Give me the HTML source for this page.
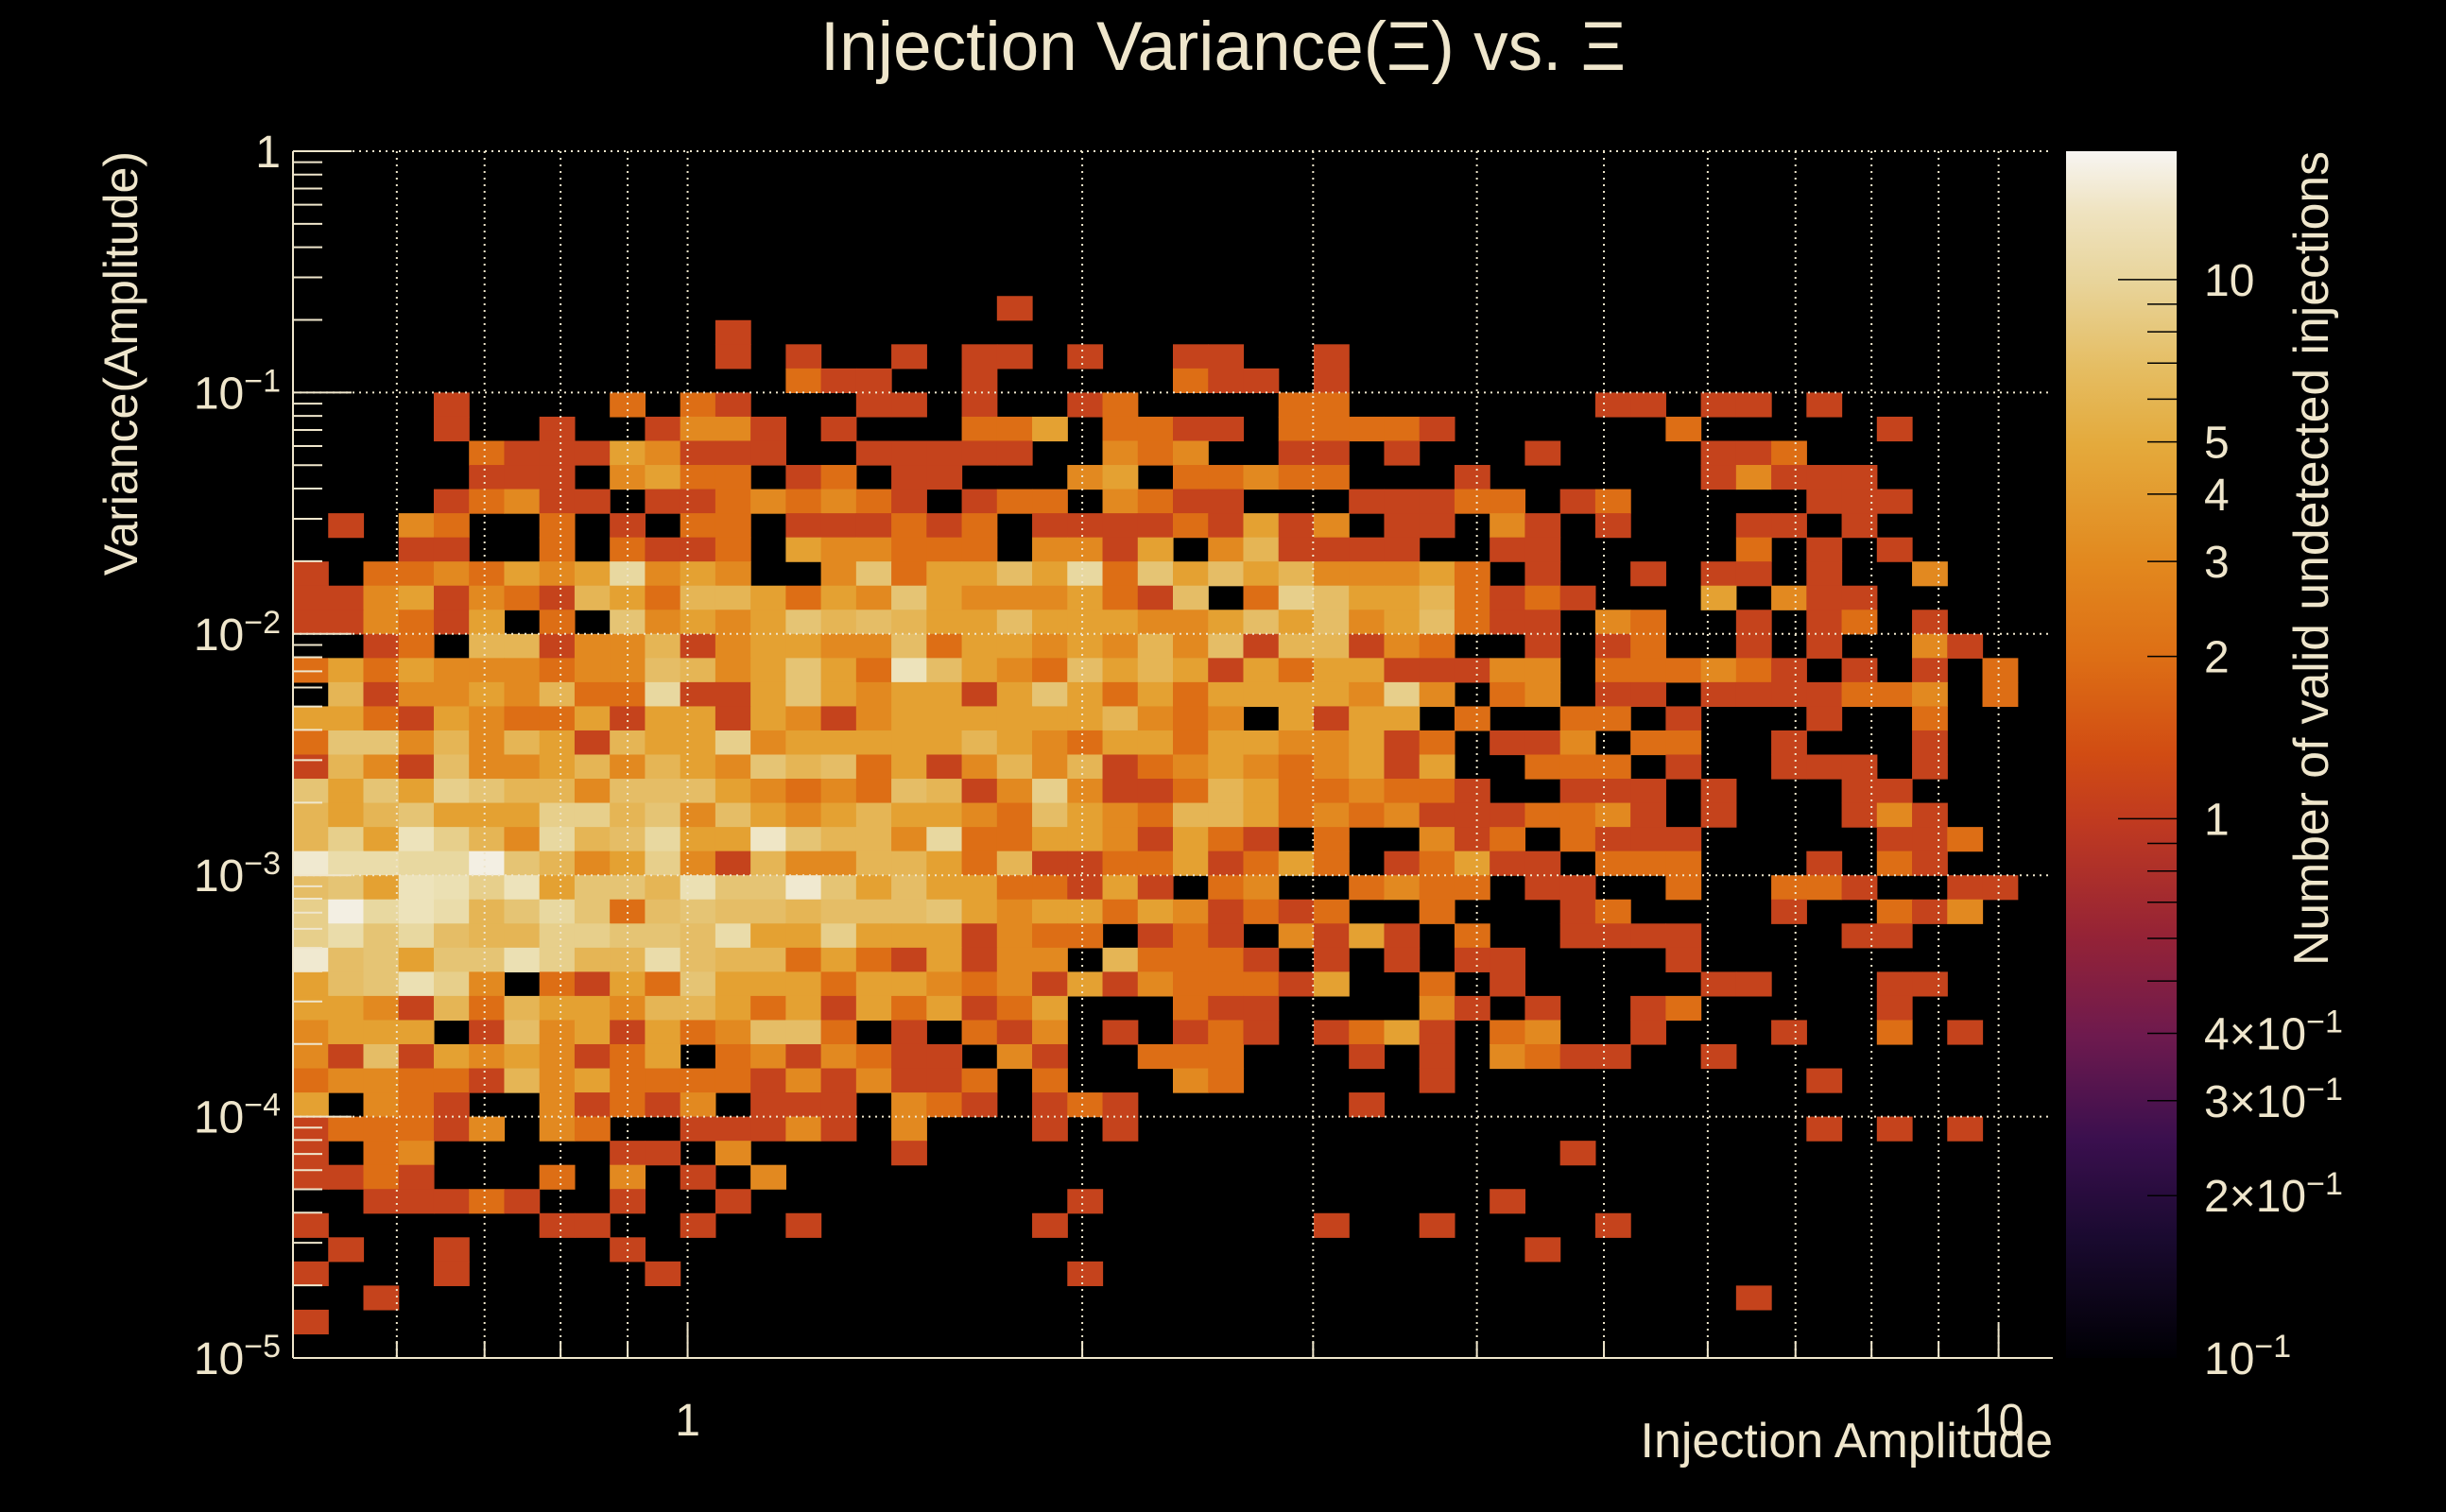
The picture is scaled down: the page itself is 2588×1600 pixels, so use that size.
<!DOCTYPE html>
<html>
<head>
<meta charset="utf-8">
<style>
  html, body { margin:0; padding:0; background:#000; }
  svg { display:block; }
  text { font-family: "Liberation Sans", "DejaVu Sans", sans-serif; fill:#efe6cc; }
</style>
</head>
<body>
<svg id="chart" width="2588" height="1600" viewBox="0 0 2588 1600" xmlns="http://www.w3.org/2000/svg">
  <rect x="0" y="0" width="2588" height="1600" fill="#000"/>
  <text x="1294" y="74" font-size="73" text-anchor="middle">Injection Variance(Ξ) vs. Ξ</text>
  <g id="cells"></g>
  <g id="grid"></g>
  <g id="axes"></g>
  <g id="colorbar"></g>
  <text x="2172" y="1542" font-size="52" text-anchor="end">Injection Amplitude</text>
  <text transform="translate(145,160) rotate(-90)" font-size="50" text-anchor="end">Variance(Amplitude)</text>
  <text transform="translate(2463,160) rotate(-90)" font-size="52" text-anchor="end" textLength="862" lengthAdjust="spacingAndGlyphs">Number of valid undetected injections</text>
</svg>
<script>
// ---- chart data ----
const xRange = [0.5, 11];          // injection amplitude axis range
const yRange = [1e-5, 1];          // variance axis range
const zRange = [0.1, 17.3];        // colour axis range
const nBinsX = 50;
const nBinsY = 50;
// counts per bin, row 0 = top (highest variance); one base-36 char per column
const row0  = "00000000000000000000000000000000000000000000000000";
const row1  = "00000000000000000000000000000000000000000000000000";
const row2  = "00000000000000000000000000000000000000000000000000";
const row3  = "00000000000000000000000000000000000000000000000000";
const row4  = "00000000000000000000000000000000000000000000000000";
const row5  = "00000000000000000000000000000000000000000000000000";
const row6  = "00000000000000000" + "00010000000000000" + "0000000000000000";
const row7  = "00000000000010000" + "00000000000000000" + "0000000000000000";
const row8  = "00000000000010100" + "10110100110010000" + "0000000000000000";
const row9  = "00000000000000211" + "00100000211010000" + "0000000000000000";
const row10 = "00001000020210001" + "10100120000220000" + "0001101101000000";
const row11 = "00001001001331010" + "00224022110222210" + "0000020000010000";
const row12 = "00000211143111001" + "11110032300110100" + "0100001120000000";
const row13 = "00000111034220120" + "11000340223220001" + "0000001311100000";
const row14 = "00001231101123232" + "10122032110001112" + "2012000001110000";
const row15 = "01032002010220111" + "21201111214130110" + "3101000110100000";
const row16 = "00011002021120433" + "22203314035111100" + "1100000201010000";
const row17 = "10223243493430037" + "24464927464533342" + "0100101101003000";
const row18 = "11341321542554243" + "74333421602864452" + "1210004031100000";
const row19 = "11321402073434756" + "54464443346463462" + "1103200101201000";
const row20 = "00120551335134433" + "62443435361551320" + "0101200101003100";
const row21 = "24243332336534742" + "c6432645414244111" + "3302223210101020";
const row22 = "05133435229114743" + "44147424244443830" + "2301101111223020";
const row23 = "44214322414414313" + "44444453230414402" + "0022010001002000";
const row24 = "27735354154483444" + "44543244244334120" + "1130220010001000";
const row25 = "15316334535437562" + "41353512343234140" + "0222010011101000";
const row26 = "74748755366643232" + "65138311254223221" + "0011101000110000";
const row27 = "54574448857364345" + "44326432554232311" + "1223101000131000";
const row28 = "584c853956944d755" + "39224431421020031" + "2021110000011200";
const row29 = "eaa99g75348315335" + "54251122412420124" + "1102220001021000";
const row30 = "674cb8c4775b77e74" + "64422141023002322" + "0110020022100110";
const row31 = "8g9ca579726766566" + "67434424312120020" + "0012000010021300";
const row32 = "8a7965588776a4484" + "44132201210314102" + "0011110000110000";
const row33 = "e67477b855a655242" + "14133052221010101" + "1000010000000000";
const row34 = "467b8302142744424" + "43231413222140020" + "1000001100011000";
const row35 = "44315254435542414" + "24124000211000031" + "0100120000010000";
const row36 = "34440163414236620" + "10213010121012410" + "2300100010020100";
const row37 = "31614343124023132" + "11031002220001010" + "3211001000000000";
const row38 = "23322153422221313" + "11202000320000010" + "0000000001000000";
const row39 = "40321003121301110" + "32101210000001000" + "0000000000000000";
const row40 = "12221303200111310" + "30001010000000000" + "0000000001010100";
const row41 = "10230000011030000" + "10000000000000000" + "0010000000000000";
const row42 = "11210002030103000" + "00000000000000000" + "0000000000000000";
const row43 = "00111210010010000" + "00000100000000000" + "1000000000000000";
const row44 = "10000001100100100" + "00001000000010010" + "0001000000000000";
const row45 = "01001000010000000" + "00000000000000000" + "0100000000000000";
const row46 = "10001000001000000" + "00000100000000000" + "0000000000000000";
const row47 = "00100000000000000" + "00000000000000000" + "0000000100000000";
const row48 = "10000000000000000" + "00000000000000000" + "0000000000000000";
const row49 = "00000000000000000" + "00000000000000000" + "0000000000000000";
const countRows = [row0,row1,row2,row3,row4,row5,row6,row7,row8,row9,row10,row11,row12,row13,row14,row15,row16,row17,row18,row19,
  row20,row21,row22,row23,row24,row25,row26,row27,row28,row29,row30,row31,row32,row33,row34,row35,row36,row37,row38,row39,
  row40,row41,row42,row43,row44,row45,row46,row47,row48,row49];
const xTickValues = [1, 10];
const xTickLabels = ["1", "10"];
const xMinorValues = [0.6,0.7,0.8,0.9,2,3,4,5,6,7,8,9];
const yTickExponents = [0, -1, -2, -3, -4, -5];
const zTickValues = [10, 5, 4, 3, 2, 1, 0.4, 0.3, 0.2, 0.1];
const zTickLabels = ["10", "5", "4", "3", "2", "1", "4×10|−1", "3×10|−1", "2×10|−1", "10|−1"];

// ---- layout ----
const NS = "http://www.w3.org/2000/svg";
const plot = { left: 310, right: 2172, top: 160, bottom: 1437 };
const cbar = { left: 2186, right: 2303, top: 160, bottom: 1437 };
const TXT = "#efe6cc";

function xScale(v) {
  const a = Math.log10(xRange[0]), b = Math.log10(xRange[1]);
  return plot.left + (Math.log10(v) - a) / (b - a) * (plot.right - plot.left);
}
function yScale(v) {
  const a = Math.log10(yRange[0]), b = Math.log10(yRange[1]);
  return plot.bottom - (Math.log10(v) - a) / (b - a) * (plot.bottom - plot.top);
}
function zFrac(v) {
  return (Math.log10(v) - Math.log10(zRange[0])) / (Math.log10(zRange[1]) - Math.log10(zRange[0]));
}
function zScale(v) { return cbar.bottom - zFrac(v) * (cbar.bottom - cbar.top); }

const palVals = [1, 2, 3, 4, 5, 7, 9, 12, 16];
const palCols = ["#c5431c", "#dd6e15", "#e28920", "#e4a132", "#e5b555", "#e5c474", "#e8d8a0", "#ede3bb", "#f3efe3"];
function hexToRgb(h) { return [parseInt(h.substr(1,2),16), parseInt(h.substr(3,2),16), parseInt(h.substr(5,2),16)]; }
function colorFor(v) {
  if (v <= palVals[0]) return palCols[0];
  if (v >= palVals[palVals.length-1]) return palCols[palCols.length-1];
  for (let i = 0; i < palVals.length - 1; i++) {
    if (v >= palVals[i] && v <= palVals[i+1]) {
      const t = (Math.log(v) - Math.log(palVals[i])) / (Math.log(palVals[i+1]) - Math.log(palVals[i]));
      const a = hexToRgb(palCols[i]), b = hexToRgb(palCols[i+1]);
      return "rgb(" + a.map((c, k) => Math.round(c + (b[k] - c) * t)).join(",") + ")";
    }
  }
  return palCols[0];
}

function mk(tag, attrs, parent) {
  const el = document.createElementNS(NS, tag);
  for (const k in attrs) el.setAttribute(k, attrs[k]);
  parent.appendChild(el);
  return el;
}

// ---- cells ----
const cellsG = document.getElementById("cells");
const lx0 = Math.log10(xRange[0]), lx1 = Math.log10(xRange[1]);
const ly0 = Math.log10(yRange[0]), ly1 = Math.log10(yRange[1]);
for (let r = 0; r < countRows.length; r++) {
  const row = countRows[r];
  const yHi = Math.pow(10, ly1 - (ly1 - ly0) * r / nBinsY);
  const yLo = Math.pow(10, ly1 - (ly1 - ly0) * (r + 1) / nBinsY);
  for (let c = 0; c < row.length; c++) {
    const v = parseInt(row[c], 36);
    if (!v) continue;
    const xLo = Math.pow(10, lx0 + (lx1 - lx0) * c / nBinsX);
    const xHi = Math.pow(10, lx0 + (lx1 - lx0) * (c + 1) / nBinsX);
    const x0 = xScale(xLo), x1 = xScale(xHi), y0 = yScale(yHi), y1 = yScale(yLo);
    const rect = mk("rect", { x: x0.toFixed(2), y: y0.toFixed(2), width: (x1 - x0 + 0.6).toFixed(2), height: (y1 - y0 + 0.6).toFixed(2), fill: colorFor(v) }, cellsG);
    
    
  }
}

// ---- grid ----
const gridG = document.getElementById("grid");
xMinorValues.concat(xTickValues).forEach(v => {
  const x = xScale(v);
  const l = mk("line", { x1: x, x2: x, y1: plot.top, y2: plot.bottom, stroke: TXT, "stroke-width": 2, "stroke-dasharray": "2 5" }, gridG);
  
  
});
yTickExponents.forEach(e => {
  const y = yScale(Math.pow(10, e));
  const l = mk("line", { x1: plot.left, x2: plot.right, y1: y, y2: y, stroke: TXT, "stroke-width": 2, "stroke-dasharray": "2 5" }, gridG);
  
  
});

// ---- axes ----
const axesG = document.getElementById("axes");
const yAxisLine = mk("line", { x1: plot.left, x2: plot.left, y1: plot.top, y2: plot.bottom, stroke: TXT, "stroke-width": 2 }, axesG);


const xAxisLine = mk("line", { x1: plot.left, x2: plot.right, y1: plot.bottom, y2: plot.bottom, stroke: TXT, "stroke-width": 2 }, axesG);



yTickExponents.forEach(e => {
  const y = yScale(Math.pow(10, e));
  const t = mk("line", { x1: plot.left, x2: plot.left + 62, y1: y, y2: y, stroke: TXT, "stroke-width": 2 }, axesG);
  
  
  if (e > yTickExponents[yTickExponents.length - 1]) {
    for (let m = 2; m <= 9; m++) {
      const ym = yScale(m * Math.pow(10, e - 1));
      const tm = mk("line", { x1: plot.left, x2: plot.left + 31, y1: ym, y2: ym, stroke: TXT, "stroke-width": 2 }, axesG);
      
      
    }
  }
  const lbl = mk("text", { x: 297, y: y + 17, "font-size": 48, "text-anchor": "end" }, axesG);
  
  
  if (e === 0) { lbl.textContent = "1"; }
  else {
    const base = document.createElementNS(NS, "tspan");
    base.textContent = "10";
    lbl.appendChild(base);
    const sup = document.createElementNS(NS, "tspan");
    sup.setAttribute("font-size", "34");
    sup.setAttribute("dy", "-18");
    sup.textContent = "−" + (-e);
    lbl.appendChild(sup);
  }
});

xTickValues.forEach((v, i) => {
  const x = xScale(v);
  const t = mk("line", { x1: x, x2: x, y1: plot.bottom, y2: plot.bottom - 36, stroke: TXT, "stroke-width": 2 }, axesG);
  
  
  const lbl = mk("text", { x: x, y: 1519, "font-size": 48, "text-anchor": "middle" }, axesG);
  
  
  lbl.textContent = xTickLabels[i];
});
xMinorValues.forEach(v => {
  const x = xScale(v);
  const t = mk("line", { x1: x, x2: x, y1: plot.bottom, y2: plot.bottom - 18, stroke: TXT, "stroke-width": 2 }, axesG);
  
  
});

// ---- colour bar ----
const cbG = document.getElementById("colorbar");
const defs = mk("defs", {}, cbG);
const grad = mk("linearGradient", { id: "cbgrad", x1: 0, y1: 1, x2: 0, y2: 0 }, defs);
const gradStops = [[0, "#000004"], [0.1, "#1a0a30"], [0.18, "#3a0f4e"], [0.267, "#6e1a4e"], [0.35, "#952336"],
  [0.444, "#c03a20"], [0.5, "#d14c13"], [0.579, "#dd6e15"], [0.658, "#e2881e"], [0.757, "#e4aa3c"],
  [0.82, "#e5bd62"], [0.891, "#e8d49a"], [0.95, "#efe3c0"], [1, "#f7f5f2"]];
gradStops.forEach(s => mk("stop", { offset: s[0], "stop-color": s[1] }, grad));
const cbRect = mk("rect", { x: cbar.left, y: cbar.top, width: cbar.right - cbar.left, height: cbar.bottom - cbar.top, fill: "url(#cbgrad)" }, cbG);



[0.2,0.3,0.4,0.5,0.6,0.7,0.8,0.9,2,3,4,5,6,7,8,9].forEach(v => {
  const y = zScale(v);
  const t = mk("line", { x1: cbar.right - 31, x2: cbar.right, y1: y, y2: y, stroke: "#000", "stroke-width": 1.5 }, cbG);
  
  
});
[1, 10].forEach(v => {
  const y = zScale(v);
  const t = mk("line", { x1: cbar.right - 62, x2: cbar.right, y1: y, y2: y, stroke: "#000", "stroke-width": 1.5 }, cbG);
  
  
});
zTickValues.forEach((v, i) => {
  const y = zScale(v);
  const lbl = mk("text", { x: 2332, y: y + 17, "font-size": 48, "text-anchor": "start" }, cbG);
  
  
  const parts = zTickLabels[i].split("|");
  const base = document.createElementNS(NS, "tspan");
  base.textContent = parts[0];
  lbl.appendChild(base);
  if (parts.length > 1) {
    const sup = document.createElementNS(NS, "tspan");
    sup.setAttribute("font-size", "34");
    sup.setAttribute("dy", "-18");
    sup.textContent = parts[1];
    lbl.appendChild(sup);
  }
});
</script>
</body>
</html>
